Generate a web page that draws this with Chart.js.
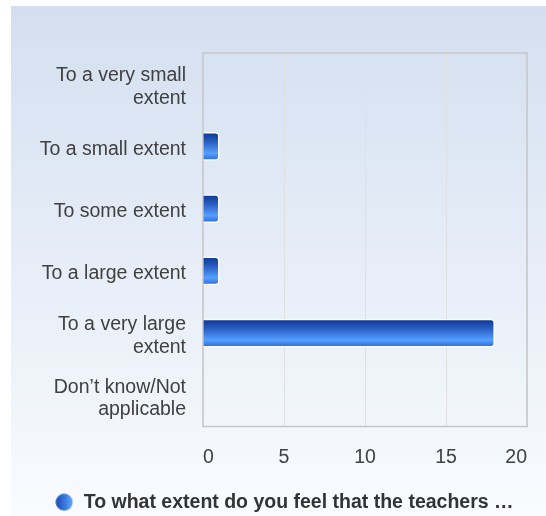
<!DOCTYPE html>
<html>
<head>
<meta charset="utf-8">
<script src="https://cdn.jsdelivr.net/npm/chart.js@4.4.1/dist/chart.umd.min.js"></script>
<style>
  html, body { margin: 0; background: #ffffff; overflow: hidden; }
  #wrap { width: 546px; height: 516px; overflow: hidden; }
</style>
</head>
<body>
<div id="wrap"><canvas id="chart" width="546" height="522"></canvas></div>
<script>
// data
const categories = [
    ['To a very small', 'extent'],
    'To a small extent',
    'To some extent',
    'To a large extent',
    ['To a very large', 'extent'],
    ['Don\u2019t know/Not', 'applicable']
];
const counts = [0, 1, 1, 1, 18, 0];
const seriesName = 'To what extent do you feel that the teachers \u2026';
const xMin = 0;
const xMax = 20;
const xStep = 5;

const FONT = "'Liberation Sans', Arial, sans-serif";
const BAR = 28;

// gradient dot used as the legend marker
function makeDot() {
    const c = document.createElement('canvas');
    c.width = 18;
    c.height = 18;
    const g = c.getContext('2d');
    const grad = g.createLinearGradient(0, 0, 18, 0);
    grad.addColorStop(0, '#1b46ad');
    grad.addColorStop(0.55, '#3a7be0');
    grad.addColorStop(1, '#6aaeff');
    g.fillStyle = grad;
    g.beginPath();
    g.arc(9, 9, 8.5, 0, Math.PI * 2);
    g.fill();
    return c;
}
const dot = makeDot();

function barFill(ctx) {
    const chart = ctx.chart;
    const yScale = chart.scales.y;
    if (!chart.chartArea || !yScale || ctx.dataIndex === undefined) return '#2a64d0';
    const cy = yScale.getPixelForValue(ctx.dataIndex);
    const g = chart.ctx.createLinearGradient(0, cy - BAR / 2, 0, cy + BAR / 2);
    g.addColorStop(0, '#0d3690');
    g.addColorStop(0.35, '#2a5fc4');
    g.addColorStop(0.75, '#55a0ff');
    g.addColorStop(1, '#2c66d6');
    return g;
}

// light blue panel behind everything
const panelBg = {
    id: 'panelBg',
    beforeDraw(chart) {
        const ctx = chart.ctx;
        const g = ctx.createLinearGradient(0, 6, 0, 516);
        g.addColorStop(0, '#d3dff0');
        g.addColorStop(1, '#f9fbfe');
        ctx.save();
        ctx.fillStyle = g;
        ctx.fillRect(11, 6, 535, 516);
        ctx.restore();
    }
};

// grey frame round the plot
const plotFrame = {
    id: 'plotFrame',
    beforeDatasetsDraw(chart) {
        const a = chart.chartArea;
        const ctx = chart.ctx;
        ctx.save();
        ctx.strokeStyle = '#c6c6c6';
        ctx.lineWidth = 1.5;
        ctx.strokeRect(a.left, a.top, a.right - a.left, a.bottom - a.top);
        ctx.restore();
    }
};

new Chart(document.getElementById('chart'), {
    type: 'bar',
    data: {
        labels: categories,
        datasets: [{
            label: seriesName,
            data: counts,
            backgroundColor: barFill,
            borderColor: '#ffffff',
            borderWidth: 1.5,
            borderRadius: 4,
            borderSkipped: 'start',
            barThickness: BAR
        }]
    },
    options: {
        indexAxis: 'y',
        responsive: false,
        animation: false,
        layout: {
            padding: { top: 53, right: 12, bottom: 0, left: 34 }
        },
        scales: {
            x: {
                min: xMin,
                max: xMax,
                ticks: {
                    stepSize: xStep,
                    padding: 19,
                    align: 'inner',
                    color: '#404040',
                    font: { family: FONT, size: 19.5 }
                },
                grid: { color: '#e0e0e0', lineWidth: 1, drawTicks: false },
                border: { display: false },
                afterFit(scale) { scale.height = 61; }
            },
            y: {
                ticks: {
                    padding: 17,
                    labelOffset: 3,
                    color: '#404040',
                    font: { family: FONT, size: 19.5, lineHeight: 1.13 }
                },
                grid: { display: false, drawTicks: false },
                border: { display: false },
                afterFit(scale) { scale.width = 169; }
            }
        },
        plugins: {
            legend: {
                position: 'bottom',
                labels: {
                    usePointStyle: true,
                    boxHeight: 18,
                    padding: 5,
                    color: '#333333',
                    font: { family: FONT, size: 19.5, weight: 'bold' },
                    generateLabels(chart) {
                        return chart.data.datasets.map((ds, i) => ({
                            text: ds.label,
                            pointStyle: dot,
                            fillStyle: '#2a64d0',
                            strokeStyle: 'transparent',
                            lineWidth: 0,
                            fontColor: '#333333',
                            datasetIndex: i
                        }));
                    }
                }
            },
            tooltip: { enabled: false }
        }
    },
    plugins: [panelBg, plotFrame]
});
</script>
</body>
</html>
